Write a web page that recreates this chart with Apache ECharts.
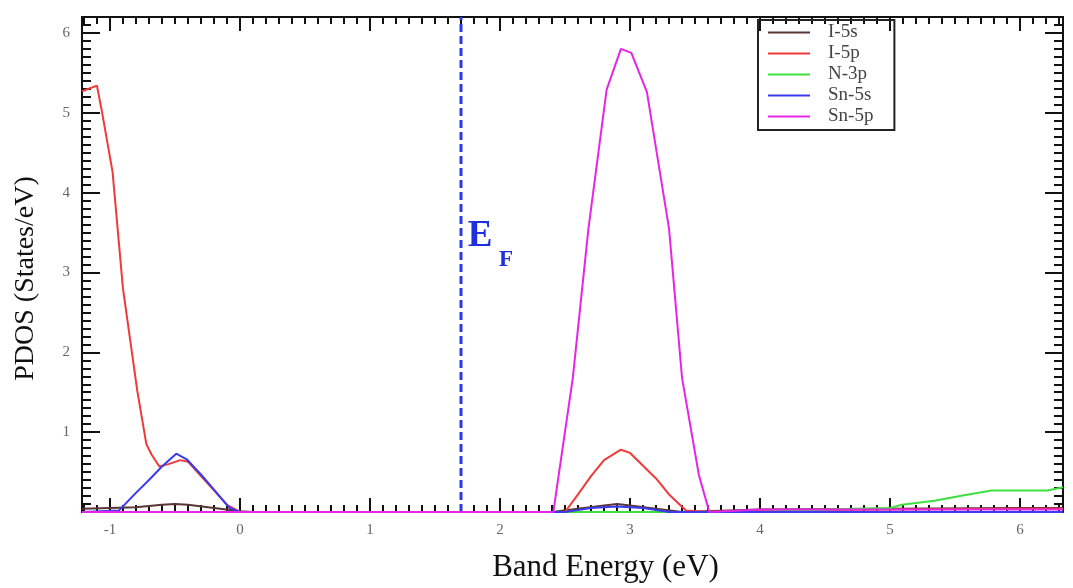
<!DOCTYPE html>
<html><head><meta charset="utf-8">
<script src="https://cdn.jsdelivr.net/npm/echarts@6/dist/echarts.min.js"></script>
<style>html,body{margin:0;padding:0;background:#fff}#c{width:1073px;height:588px}</style>
</head><body><div id="c"></div>
<script>
// ---- data ----
const seriesNames = ['I-5s', 'I-5p', 'N-3p', 'Sn-5s', 'Sn-5p'];

const i5sEnergy = [-1.215, -1.0, -0.8, -0.6, -0.5, -0.4, -0.2, 0.0, 0.1, 2.4, 2.6, 2.8, 2.9, 3.0, 3.2, 3.4, 4.0, 5.0, 6.0, 6.33];
const i5sPdos   = [0.04, 0.05, 0.06, 0.09, 0.10, 0.09, 0.05, 0.01, 0.0, 0.0, 0.04, 0.08, 0.10, 0.08, 0.04, 0.0, 0.03, 0.04, 0.05, 0.05];

const i5pEnergy = [-1.215, -1.1, -1.06, -0.98, -0.9, -0.79, -0.72, -0.68, -0.62, -0.55, -0.46, -0.4, -0.3, -0.2, -0.1, 0.0, 2.5, 2.6, 2.7, 2.8, 2.93, 3.0, 3.1, 3.2, 3.3, 3.43, 3.6, 4.0, 5.0, 6.0, 6.33];
const i5pPdos   = [5.27, 5.34, 5.0, 4.26, 2.8, 1.52, 0.85, 0.72, 0.57, 0.60, 0.65, 0.63, 0.45, 0.27, 0.09, 0.0, 0.0, 0.22, 0.45, 0.65, 0.78, 0.74, 0.58, 0.42, 0.22, 0.02, 0.0, 0.02, 0.03, 0.04, 0.04];

const n3pEnergy = [-1.215, 4.0, 4.5, 5.0, 5.09, 5.34, 5.57, 5.78, 5.98, 6.21, 6.33];
const n3pPdos   = [0.0, 0.0, 0.03, 0.05, 0.09, 0.14, 0.21, 0.27, 0.27, 0.27, 0.31];

const sn5sEnergy = [-1.215, -0.93, -0.8, -0.7, -0.6, -0.49, -0.41, -0.3, -0.2, -0.08, 0.0, 2.5, 2.7, 2.9, 3.1, 3.3, 6.33];
const sn5sPdos   = [0.0, 0.02, 0.24, 0.40, 0.57, 0.73, 0.66, 0.47, 0.28, 0.05, 0.0, 0.0, 0.05, 0.07, 0.05, 0.0, 0.0];

const sn5pEnergy = [-1.215, 2.41, 2.56, 2.68, 2.82, 2.93, 3.01, 3.13, 3.3, 3.4, 3.53, 3.61, 4.0, 6.33];
const sn5pPdos   = [0.0, 0.0, 1.68, 3.55, 5.29, 5.80, 5.75, 5.26, 3.55, 1.68, 0.46, 0.0, 0.03, 0.03];

const fermiEnergy = 1.7;
const xRange = [-1.215, 6.33];
const yRange = [0, 6.2];

// ---- styling ----
const colors = ['#5a3636', '#f03a3a', '#3ee03e', '#3a3aee', '#e626e6'];
const serif = 'Liberation Serif';
const ink = '#111';

function pairs(xs, ys) { return xs.map((x, i) => [x, ys[i]]); }
const energies = [i5sEnergy, i5pEnergy, n3pEnergy, sn5sEnergy, sn5pEnergy];
const pdos = [i5sPdos, i5pPdos, n3pPdos, sn5sPdos, sn5pPdos];

const isInt = v => Math.abs(v - Math.round(v)) < 1e-9;

function xAxisCfg(pos, labels) {
  return {
    type: 'value', position: pos, min: xRange[0], max: xRange[1], splitNumber: 8,
    axisLine: { show: true, onZero: false, lineStyle: { color: ink, width: 2 } },
    axisTick: { show: true, inside: true, length: 14, lineStyle: { color: ink, width: 2 } },
    minorTick: { show: true, splitNumber: 10, length: 7, lineStyle: { color: ink, width: 2 } },
    splitLine: { show: false }, minorSplitLine: { show: false },
    axisLabel: {
      show: labels, margin: 11, color: '#666', fontSize: 15, fontFamily: serif,
      formatter: v => isInt(v) ? String(Math.round(v)) : ''
    }
  };
}
function yAxisCfg(pos, labels) {
  return {
    type: 'value', position: pos, min: yRange[0], max: yRange[1], interval: 1,
    axisLine: { show: true, onZero: false, lineStyle: { color: ink, width: 2 } },
    axisTick: { show: true, inside: true, length: 18, lineStyle: { color: ink, width: 2 } },
    minorTick: { show: true, splitNumber: 10, length: 9, lineStyle: { color: ink, width: 2 } },
    splitLine: { show: false }, minorSplitLine: { show: false },
    axisLabel: {
      show: labels, margin: 12, color: '#666', fontSize: 15, fontFamily: serif,
      formatter: v => (isInt(v) && v > 0) ? String(Math.round(v)) : ''
    }
  };
}

const xBottom = Object.assign(xAxisCfg('bottom', true), {
  name: 'Band Energy (eV)', nameLocation: 'middle', nameGap: 40,
  nameTextStyle: { fontFamily: serif, fontSize: 31, color: ink, padding: [0, 0, 0, 66] }
});
const yLeft = Object.assign(yAxisCfg('left', true), {
  name: 'PDOS (States/eV)', nameLocation: 'middle', nameGap: 42,
  nameTextStyle: { fontFamily: serif, fontSize: 28, color: ink, padding: [0, 28, 0, 0] }
});

const series = seriesNames.map((name, i) => ({
  name, type: 'line', xAxisIndex: 0, yAxisIndex: 0,
  data: pairs(energies[i], pdos[i]),
  symbol: 'none', showSymbol: false, smooth: false,
  lineStyle: { color: colors[i], width: 2 }, itemStyle: { color: colors[i] },
  z: 3 + i
}));

series.push({
  name: 'EF', type: 'line', xAxisIndex: 0, yAxisIndex: 0,
  data: [[fermiEnergy, yRange[0]], [fermiEnergy, yRange[1]]],
  symbol: 'none', showSymbol: false,
  lineStyle: { color: '#2a3ae8', width: 3, type: [8, 4] },
  z: 2,
  markPoint: {
    symbol: 'circle', symbolSize: 0,
    label: { show: true, fontFamily: serif, fontWeight: 'bold', color: '#1f2fe0' },
    data: [
      { coord: [fermiEnergy, 3.45], value: 'E', label: { formatter: 'E', fontSize: 37, offset: [19, 0] } },
      { coord: [fermiEnergy, 3.45], value: 'F', label: { formatter: 'F', fontSize: 23, offset: [45, 24] } }
    ]
  }
});

const chart = echarts.init(document.getElementById('c'), null, { renderer: 'canvas' });
chart.setOption({
  animation: false,
  backgroundColor: '#fff',
  grid: { left: 82, right: 10, top: 17, bottom: 73, containLabel: false },
  legend: {
    data: seriesNames.map(n => ({ name: n, icon: 'rect' })),
    orient: 'vertical', left: 758, top: 20,
    itemWidth: 42, itemHeight: 2, itemGap: 2,
    padding: [3, 21, 4, 10],
    borderColor: '#222', borderWidth: 2,
    textStyle: { fontFamily: serif, fontSize: 19, color: '#444', padding: [0, 0, 0, 13] }
  },
  xAxis: [xBottom, xAxisCfg('top', false)],
  yAxis: [yLeft, yAxisCfg('right', false)],
  series
});
</script></body></html>
